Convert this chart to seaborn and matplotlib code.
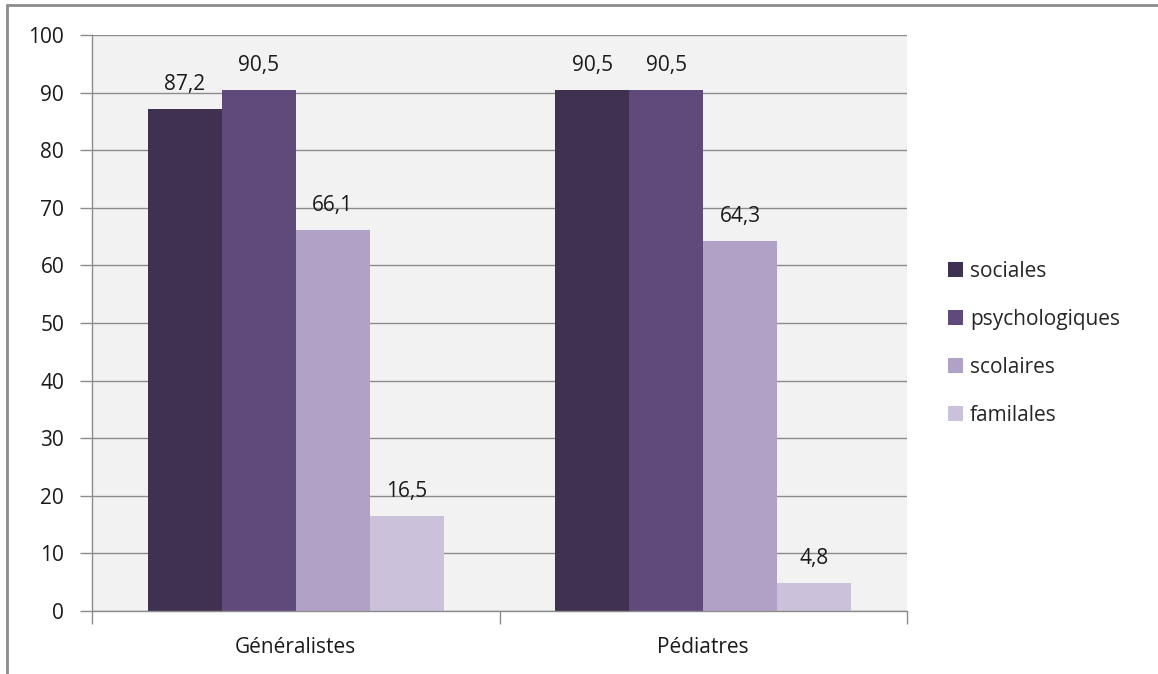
import matplotlib
matplotlib.use("Agg")
import matplotlib.pyplot as plt
import seaborn as sns
import pandas as pd
from matplotlib.lines import Line2D

categories = ["Généralistes", "Pédiatres"]
series = ["sociales", "psychologiques", "scolaires", "familales"]
sociales = [87.2, 90.5]
psychologiques = [90.5, 90.5]
scolaires = [66.1, 64.3]
familales = [16.5, 4.8]
colors = ["#403151", "#604a7b", "#b2a1c7", "#ccc1da"]

rows = []
for name, vals in zip(series, [sociales, psychologiques, scolaires, familales]):
    for cat, v in zip(categories, vals):
        rows.append({"groupe": cat, "type": name, "valeur": v})
df = pd.DataFrame(rows)

sns.set_theme(style="white")
plt.rcParams["font.family"] = ["Open Sans", "DejaVu Sans"]

FS = 15
TXT = "#1a1a1a"

fig = plt.figure(figsize=(11.58, 6.74), dpi=100)
ax = fig.add_axes([92 / 1158, 1 - 611 / 674, (907 - 92) / 1158, (611 - 35) / 674])

sns.barplot(data=df, x="groupe", y="valeur", hue="type", order=categories,
            hue_order=series, palette=colors, width=0.727, saturation=1,
            linewidth=0, ax=ax, legend=True)

ax.set_facecolor("#f2f2f2")
ax.set_ylim(0, 100)
ax.set_xlim(-0.5, 1.5)
ax.set_yticks(range(0, 101, 10))
ax.yaxis.grid(True, color="#8c8c8c", linewidth=1)
ax.set_axisbelow(True)
ax.set_xlabel("")
ax.set_ylabel("")

for side in ["top", "right"]:
    ax.spines[side].set_visible(False)
for side in ["left", "bottom"]:
    ax.spines[side].set_color("#8c8c8c")
    ax.spines[side].set_linewidth(1)

ax.tick_params(axis="y", which="both", left=True, length=9, width=1, color="#8c8c8c",
               labelsize=FS, labelcolor=TXT, pad=11)
ax.set_xticks([0, 1])
ax.set_xticklabels(categories)
ax.tick_params(axis="x", which="major", bottom=False, labelsize=FS, labelcolor=TXT, pad=13)
ax.set_xticks([-0.5, 0.5, 1.5], minor=True)
ax.tick_params(axis="x", which="minor", bottom=True, length=9, width=1, color="#8c8c8c")

for cont in ax.containers:
    labels = [f"{v:.1f}".replace(".", ",") for v in cont.datavalues]
    ax.bar_label(cont, labels=labels, padding=10, fontsize=FS, color=TXT)

handles, labs = ax.get_legend_handles_labels()
ax.legend(handles, labs, loc="center left", bbox_to_anchor=(1.04, 0.465), frameon=False,
          fontsize=FS, handlelength=0.7, handleheight=0.7, handletextpad=0.35,
          labelspacing=1.3, borderaxespad=0)

fig.add_artist(Line2D([7 / 1158, 7 / 1158], [0, 1 - 5 / 674], color="#8c8c8c", linewidth=2))
fig.add_artist(Line2D([7 / 1158, 1], [1 - 5 / 674, 1 - 5 / 674], color="#8c8c8c", linewidth=2))

fig.savefig("out.png", dpi=100)
